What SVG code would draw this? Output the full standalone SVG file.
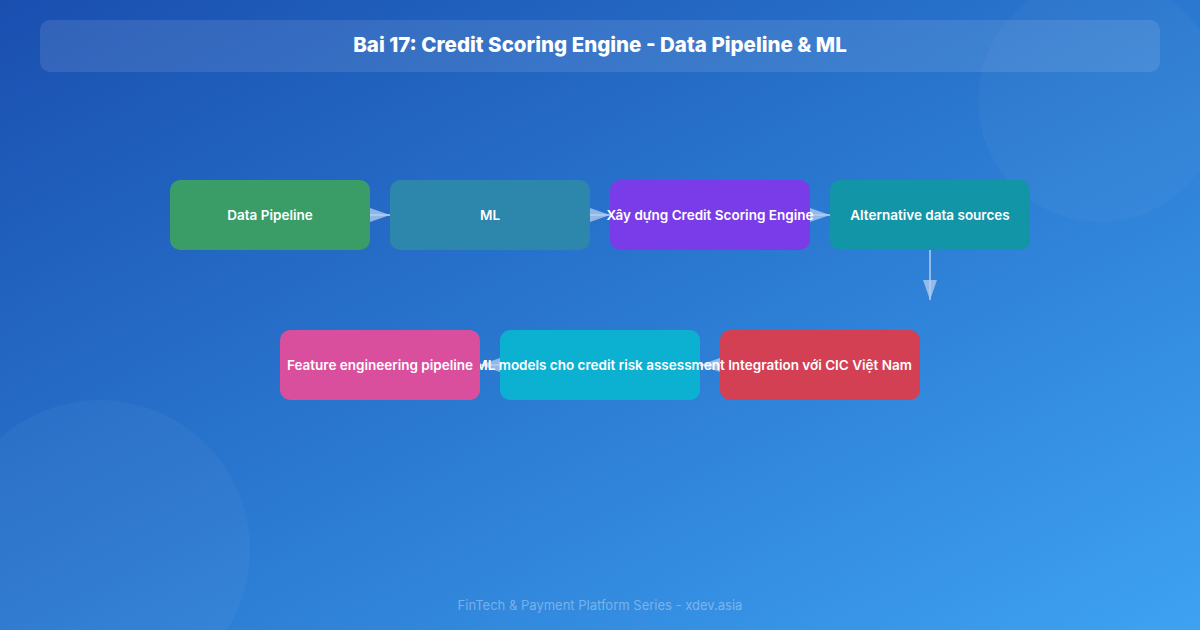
<svg xmlns="http://www.w3.org/2000/svg" width="1200" height="630" viewBox="0 0 1200 630">
  <defs>
    <linearGradient id="bg" x1="0" y1="0" x2="1" y2="1">
      <stop offset="0" stop-color="#1a4fb0"/>
      <stop offset="0.5" stop-color="#2a78d0"/>
      <stop offset="1" stop-color="#3ea2f2"/>
    </linearGradient>
    <marker id="arrow" viewBox="0 0 20 14" refX="20" refY="7" markerWidth="20" markerHeight="14" markerUnits="userSpaceOnUse" orient="auto">
      <path d="M0,0 L20,7 L0,14 Z" fill="#b4cff2" fill-opacity="0.75"/>
    </marker>
    <style>
      .node rect { stroke: none; }
      .node text { font-family: Inter, "Liberation Sans", sans-serif; font-size: 13.5px; font-weight: 600; fill: #ffffff; text-anchor: middle; dominant-baseline: central; }
      .conn line { stroke: #b4cff2; stroke-opacity: 0.75; stroke-width: 2; fill: none; }
      .title { font-family: Inter, "Liberation Sans", sans-serif; font-size: 20.5px; font-weight: 800; fill: #ffffff; text-anchor: middle; }
      .footer { font-family: Inter, "Liberation Sans", sans-serif; font-size: 13px; fill: #ffffff; fill-opacity: 0.35; text-anchor: middle; }
    </style>
  </defs>
  <rect x="0" y="0" width="1200" height="630" fill="url(#bg)"/>
  <circle cx="1100" cy="100" r="122" fill="#ffffff" fill-opacity="0.03"/>
  <circle cx="100" cy="550" r="150" fill="#ffffff" fill-opacity="0.035"/>

  <g id="title-bar">
    <rect x="40" y="20" width="1120" height="52" rx="10" fill="#ffffff" fill-opacity="0.1"/>
    <text class="title" x="600" y="52">Bai 17: Credit Scoring Engine - Data Pipeline &amp; ML</text>
  </g>

  <g id="connectors" class="conn">
    <line x1="370" y1="215" x2="390" y2="215" marker-end="url(#arrow)"/>
    <line x1="590" y1="215" x2="610" y2="215" marker-end="url(#arrow)"/>
    <line x1="810" y1="215" x2="830" y2="215" marker-end="url(#arrow)"/>
    <line x1="930" y1="250" x2="930" y2="300" marker-end="url(#arrow)"/>
    <line x1="720" y1="365" x2="700" y2="365" marker-end="url(#arrow)"/>
    <line x1="500" y1="365" x2="480" y2="365" marker-end="url(#arrow)"/>
  </g>

  <g id="node-data-pipeline" class="node">
    <rect x="170" y="180" width="200" height="70" rx="10" fill="#3a9d68"/>
    <text x="270" y="215">Data Pipeline</text>
  </g>
  <g id="node-ml" class="node">
    <rect x="390" y="180" width="200" height="70" rx="10" fill="#2d86ab"/>
    <text x="490" y="215">ML</text>
  </g>
  <g id="node-build" class="node">
    <rect x="610" y="180" width="200" height="70" rx="10" fill="#7a3ce8"/>
    <text x="710" y="215">Xây dựng Credit Scoring Engine</text>
  </g>
  <g id="node-alt-data" class="node">
    <rect x="830" y="180" width="200" height="70" rx="10" fill="#1395a8"/>
    <text x="930" y="215">Alternative data sources</text>
  </g>
  <g id="node-cic" class="node">
    <rect x="720" y="330" width="200" height="70" rx="10" fill="#d33f53"/>
    <text x="820" y="365">Integration với CIC Việt Nam</text>
  </g>
  <g id="node-ml-models" class="node">
    <rect x="500" y="330" width="200" height="70" rx="10" fill="#0cb1d2"/>
    <text x="600" y="365">ML models cho credit risk assessment</text>
  </g>
  <g id="node-feature" class="node">
    <rect x="280" y="330" width="200" height="70" rx="10" fill="#d94f9d"/>
    <text x="380" y="365">Feature engineering pipeline</text>
  </g>

  <text class="footer" x="600" y="610">FinTech &amp; Payment Platform Series - xdev.asia</text>
</svg>
